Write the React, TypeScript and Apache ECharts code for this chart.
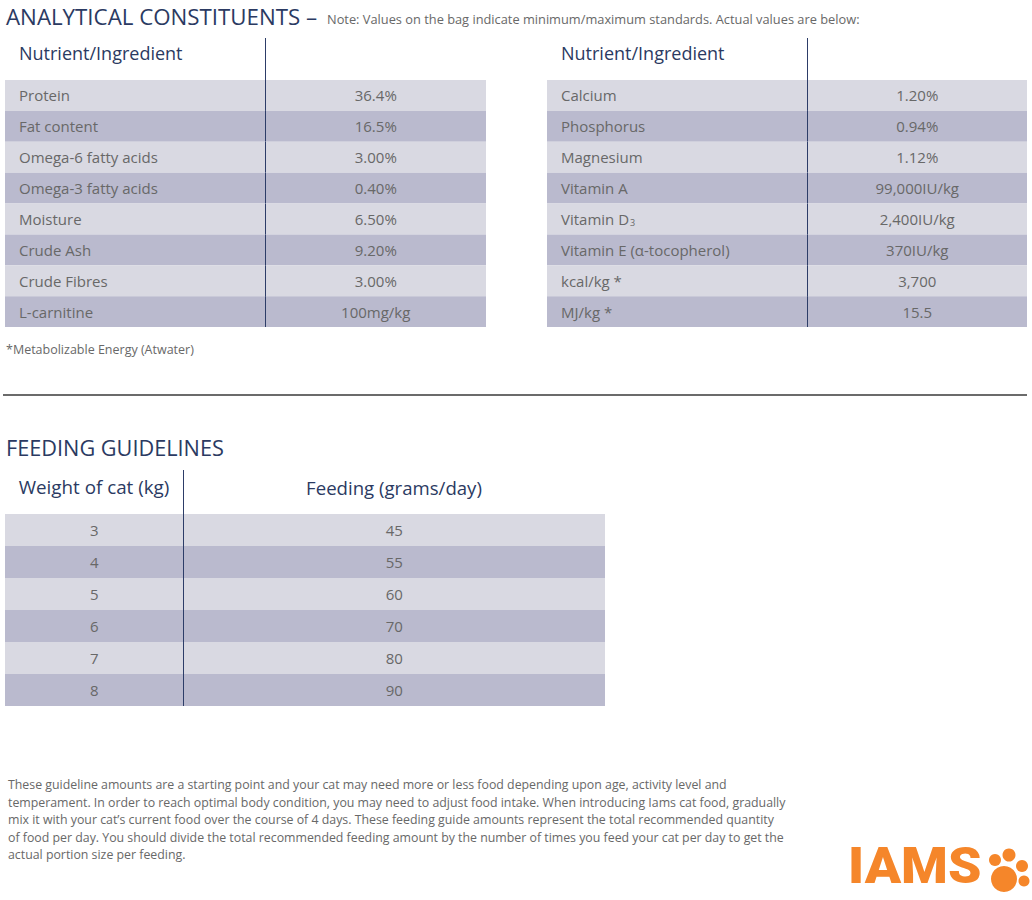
import React, { useEffect, useRef } from "react";
import * as echarts from "echarts";

// ---------- data ----------
const leftNutrients = [
  "Protein",
  "Fat content",
  "Omega-6 fatty acids",
  "Omega-3 fatty acids",
  "Moisture",
  "Crude Ash",
  "Crude Fibres",
  "L-carnitine",
];
const leftValues = ["36.4%", "16.5%", "3.00%", "0.40%", "6.50%", "9.20%", "3.00%", "100mg/kg"];

const rightNutrients = [
  "Calcium",
  "Phosphorus",
  "Magnesium",
  "Vitamin A",
  "Vitamin D{sub|3}",
  "Vitamin E (α-tocopherol)",
  "kcal/kg *",
  "MJ/kg *",
];
const rightValues = ["1.20%", "0.94%", "1.12%", "99,000IU/kg", "2,400IU/kg", "370IU/kg", "3,700", "15.5"];

const catWeights = ["3", "4", "5", "6", "7", "8"];
const feedingGrams = ["45", "55", "60", "70", "80", "90"];

const paragraphLines = [
  "These guideline amounts are a starting point and your cat may need more or less food depending upon age, activity level and",
  "temperament. In order to reach optimal body condition, you may need to adjust food intake. When introducing Iams cat food, gradually",
  "mix it with your cat’s current food over the course of 4 days. These feeding guide amounts represent the total recommended quantity",
  "of food per day. You should divide the total recommended feeding amount by the number of times you feed your cat per day to get the",
  "actual portion size per feeding.",
];

// ---------- styles ----------
const NAVY = "#2b3a62";
const LINE_NAVY = "#2d3d68";
const GREY = "#686868";
const LIGHT = "#d9d9e2";
const DARK = "#babace";
const ORANGE = "#f5862a";
const FONT = "'Open Sans', 'Noto Sans', sans-serif";

function makeRender(
  labels: string[],
  values: string[],
  splitFrac: number,
  labelCentered: boolean,
  headerExt: number
) {
  return (params: any, api: any) => {
    const i = params.dataIndex;
    const c = api.coord([0, i]);
    const sz = api.size([1, 1]);
    const w = sz[0];
    const h = sz[1];
    const x0 = c[0];
    const yc = c[1];
    const xs = Math.round(x0 + w * splitFrac) + 0.5;
    const children: any[] = [
      {
        type: "rect",
        shape: { x: x0, y: yc - h / 2, width: w, height: h },
        style: { fill: i % 2 === 0 ? LIGHT : DARK },
      },
      {
        type: "text",
        x: labelCentered ? (x0 + xs) / 2 : x0 + 14,
        y: yc,
        style: {
          text: labels[i],
          fill: GREY,
          fontSize: 15,
          fontFamily: FONT,
          align: labelCentered ? "center" : "left",
          verticalAlign: "middle",
          rich: {
            sub: { fontSize: 9, fill: GREY, fontFamily: FONT, padding: [8, 0, 0, 1] },
          },
        },
      },
      {
        type: "text",
        x: (xs + x0 + w) / 2,
        y: yc,
        style: {
          text: values[i],
          fill: GREY,
          fontSize: 15,
          fontFamily: FONT,
          align: "center",
          verticalAlign: "middle",
        },
      },
      {
        type: "line",
        shape: { x1: xs, y1: yc - h / 2 - (i === 0 ? headerExt : 0), x2: xs, y2: yc + h / 2 },
        style: { stroke: LINE_NAVY, lineWidth: 1 },
      },
    ];
    return { type: "group", children };
  };
}

function txt(x: number, y: number, text: string, fontSize: number, fill: string, extra: any = {}) {
  return {
    type: "text",
    x,
    y,
    ...(extra.el || {}),
    style: {
      text,
      fill,
      fontSize,
      fontFamily: FONT,
      align: extra.align || "left",
      textAlign: extra.align || "left",
      verticalAlign: "middle",
      textVerticalAlign: "middle",
      fontWeight: extra.fontWeight || "normal",
    },
  };
}

export default function App() {
  const ref = useRef<HTMLDivElement>(null);

  useEffect(() => {
    if (!ref.current) return;
    const chart = echarts.init(ref.current, undefined, { renderer: "svg" });

    const grids = [
      { left: 5, top: 80, width: 481, height: 247 },
      { left: 547, top: 80, width: 480, height: 247 },
      { left: 5, top: 514, width: 600, height: 192 },
    ];

    const option: any = {
      animation: false,
      backgroundColor: "#ffffff",
      grid: grids,
      xAxis: grids.map((_, gi) => ({ type: "value", gridIndex: gi, min: 0, max: 1, show: false })),
      yAxis: [
        { type: "category", gridIndex: 0, data: leftNutrients, inverse: true, show: false },
        { type: "category", gridIndex: 1, data: rightNutrients, inverse: true, show: false },
        { type: "category", gridIndex: 2, data: catWeights, inverse: true, show: false },
      ],
      series: [
        {
          type: "custom",
          xAxisIndex: 0,
          yAxisIndex: 0,
          encode: { x: 0, y: 1 },
          data: leftNutrients.map((_, i) => [0, i]),
          renderItem: makeRender(leftNutrients, leftValues, 0.5405, false, 42),
        },
        {
          type: "custom",
          xAxisIndex: 1,
          yAxisIndex: 1,
          encode: { x: 0, y: 1 },
          data: rightNutrients.map((_, i) => [0, i]),
          renderItem: makeRender(rightNutrients, rightValues, 0.5417, false, 42),
        },
        {
          type: "custom",
          xAxisIndex: 2,
          yAxisIndex: 2,
          encode: { x: 0, y: 1 },
          data: catWeights.map((_, i) => [0, i]),
          renderItem: makeRender(catWeights, feedingGrams, 0.2967, true, 44),
        },
      ],
      graphic: [
        txt(6, 16, "ANALYTICAL CONSTITUENTS –", 22.3, NAVY),
        txt(327, 19, "Note: Values on the bag indicate minimum/maximum standards. Actual values are below:", 13.5, GREY, {
          el: { scaleX: 0.95 },
        }),
        txt(19, 53, "Nutrient/Ingredient", 18, NAVY),
        txt(561, 53, "Nutrient/Ingredient", 18, NAVY),
        txt(6, 349, "*Metabolizable Energy (Atwater)", 12.5, GREY),
        {
          type: "line",
          shape: { x1: 3, y1: 395, x2: 1027, y2: 395 },
          style: { stroke: "#6b6b6b", lineWidth: 2 },
        },
        txt(6, 447, "FEEDING GUIDELINES", 21.7, NAVY),
        txt(94, 487, "Weight of cat (kg)", 18.8, NAVY, { align: "center" }),
        txt(394, 487, "Feeding (grams/day)", 18.6, NAVY, { align: "center" }),
        ...paragraphLines.map((l, i) =>
          txt(8, 784 + i * 17.5, l, 13.5, GREY, { el: { scaleX: 0.915 } })
        ),
        // IAMS logo
        {
          type: "text",
          x: 848,
          y: 866,
          scaleX: 1.07,
          style: {
            text: "IAMS",
            fill: ORANGE,
            fontSize: 50,
            fontWeight: 900,
            fontFamily: "Roboto, 'Open Sans', sans-serif",
            align: "left",
            textAlign: "left",
            verticalAlign: "middle",
            textVerticalAlign: "middle",
          },
        },
        { type: "circle", shape: { cx: 1004, cy: 879, r: 13 }, style: { fill: ORANGE } },
        { type: "circle", shape: { cx: 995, cy: 860, r: 6 }, style: { fill: ORANGE } },
        { type: "circle", shape: { cx: 1009, cy: 855, r: 6.5 }, style: { fill: ORANGE } },
        { type: "circle", shape: { cx: 1022, cy: 866, r: 6 }, style: { fill: ORANGE } },
        { type: "circle", shape: { cx: 1024, cy: 881, r: 5.5 }, style: { fill: ORANGE } },
      ],
    };

    chart.setOption(option);
    return () => chart.dispose();
  }, []);

  return (
    <div
      ref={ref}
      style={{ position: "absolute", left: 0, top: 0, width: 1032, height: 900, background: "#fff" }}
    />
  );
}
